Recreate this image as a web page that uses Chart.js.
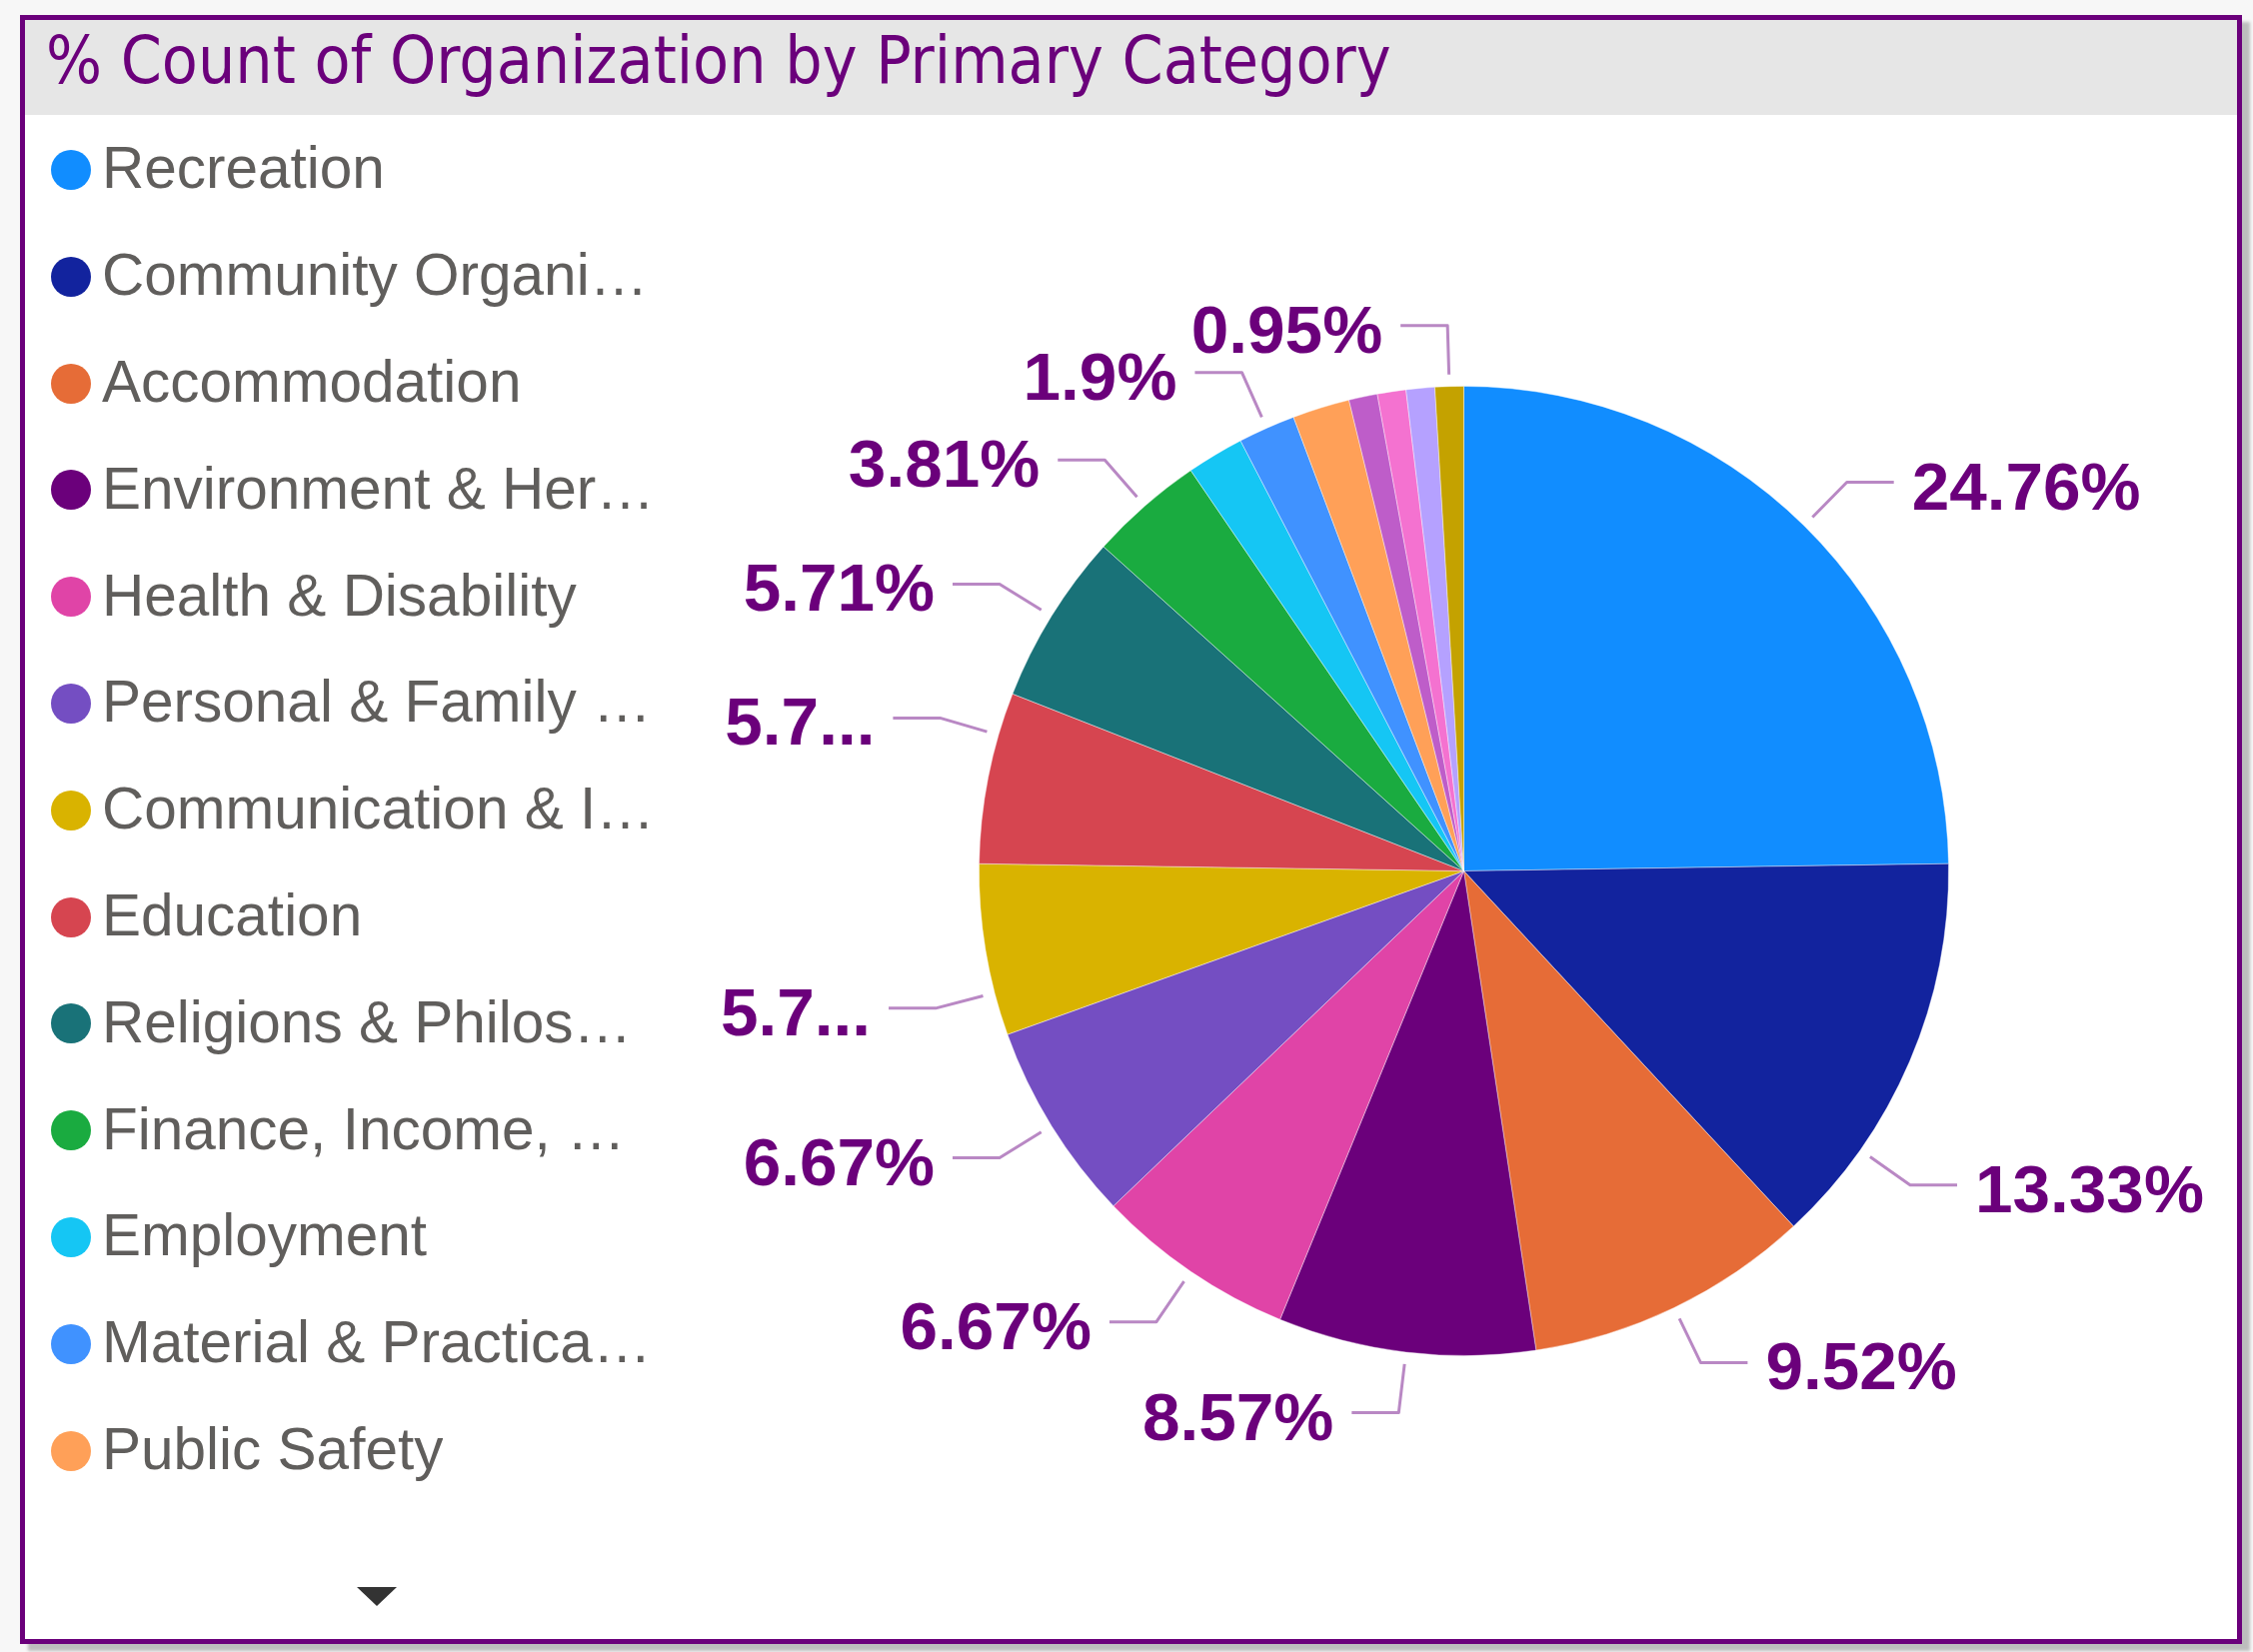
<!DOCTYPE html>
<html>
<head>
<meta charset="utf-8">
<title>% Count of Organization by Primary Category</title>
<script src="https://cdn.jsdelivr.net/npm/chart.js@4.4.1/dist/chart.umd.min.js"></script>
<style>
  html, body { margin: 0; padding: 0; }
  body {
    width: 2254px; height: 1653px; position: relative; overflow: hidden;
    background: #f7f7f7;
    font-family: "Liberation Sans", Arial, Helvetica, sans-serif;
  }
  .frame {
    position: absolute; left: 20px; top: 15px;
    width: 2213px; height: 1620px;
    border: 5px solid #6b007b; background: #fff;
    box-shadow: 8px 7px 3px #bdbdbd;
  }
  .title {
    position: absolute; left: 25px; top: 20px; width: 2213px; height: 95px;
    background: #e6e6e6; color: #6b007b;
    font-family: "DejaVu Sans Condensed", "DejaVu Sans", sans-serif; font-stretch: condensed;
    font-size: 65.5px; line-height: 81px; padding-left: 21px; box-sizing: border-box;
    white-space: nowrap;
  }
  #legend {
    position: absolute; left: 51px; top: 114.6px; width: 640px; height: 1388px;
    margin: 0; padding: 0; list-style: none; overflow: hidden;
  }
  #legend li {
    height: 106.8px; display: flex; align-items: center;
    font-size: 58.5px; color: #605e5c;
  }
  #legend .dot {
    flex: none; width: 40px; height: 40px; border-radius: 50%; margin-right: 11px;
    position: relative; top: 2px;
  }
  #legend .txt {
    max-width: 557px; white-space: nowrap; overflow: hidden; text-overflow: ellipsis;
  }
  .more {
    position: absolute; left: 357px; top: 1588px; width: 0; height: 0;
    border-left: 20px solid transparent; border-right: 20px solid transparent;
    border-top: 19px solid #333;
  }
  .plot { position: absolute; left: 0; top: 0; width: 2254px; height: 1653px; }
</style>
</head>
<body>
<div class="frame"></div>
<div class="title">% Count of Organization by Primary Category</div>
<ul id="legend"></ul>
<div class="more"></div>
<div class="plot"><canvas id="pie"></canvas></div>

<script>
// Organisations per primary category (105 in total), in slice order
var categories = [
  "Recreation",
  "Community Organisations",
  "Accommodation",
  "Environment & Heritage",
  "Health & Disability",
  "Personal & Family Support",
  "Communication & Information",
  "Education",
  "Religions & Philosophies",
  "Finance, Income, & Budgeting",
  "Employment",
  "Material & Practical Support",
  "Public Safety",
  "Legal & Justice",
  "Transport",
  "Arts & Culture",
  "Volunteering"
];
var counts = [26, 14, 10, 9, 7, 7, 6, 6, 6, 4, 2, 2, 2, 1, 1, 1, 1];
var sliceColors = [
  "#118DFF", "#12239E", "#E66C37", "#6B007B", "#E044A7", "#744EC2",
  "#D9B300", "#D64550", "#197278", "#1AAB40", "#15C6F4", "#4092FF",
  "#FFA058", "#BE5DC9", "#F472D0", "#B5A1FF", "#C4A200"
];
// data labels that survive the overlap check in the original
var labelShown = [true, true, true, true, true, true, true, true, true, true,
                  false, true, false, false, false, false, true];

function fmtPct(v) {
  return parseFloat(v.toFixed(2)) + "%";
}

// Power BI style outside labels: radial tick, elbow, horizontal arm, text.
var outsideLabels = {
  id: "outsideLabels",
  afterDatasetsDraw: function (chart, args, o) {
    var ctx = chart.ctx;
    var arcs = chart.getDatasetMeta(0).data;
    var total = counts.reduce(function (a, b) { return a + b; }, 0);
    ctx.save();
    ctx.font = "bold " + o.fontSize + "px 'Liberation Sans', Arial, sans-serif";
    ctx.lineWidth = o.lineWidth;
    ctx.strokeStyle = o.lineColor;
    ctx.fillStyle = o.color;
    ctx.textBaseline = "alphabetic";
    ctx.lineJoin = "round";

    arcs.forEach(function (arc, i) {
      if (!labelShown[i]) return;
      var p = arc.getProps(["x", "y", "startAngle", "endAngle", "outerRadius"], true);
      var text = fmtPct(counts[i] / total * 100);

      function place(a) {
        var c = Math.cos(a), s = Math.sin(a);
        var right = c >= 0;
        var ex = p.x + c * (p.outerRadius + o.elbow);
        var ey = p.y + s * (p.outerRadius + o.elbow);
        var tx = right ? ex + o.arm + o.gap : ex - o.arm - o.gap;
        return {
          c: c, s: s, right: right, ex: ex, ey: ey, tx: tx,
          room: right ? o.maxX - tx : tx - o.minX
        };
      }

      var w = ctx.measureText(text).width;
      var pos = place((p.startAngle + p.endAngle) / 2);
      if (w > pos.room) {
        // slide toward the slice edge that is farther from the horizontal
        var far = Math.abs(Math.sin(p.endAngle)) > Math.abs(Math.sin(p.startAngle)) ? p.endAngle : p.startAngle;
        var near = far === p.endAngle ? p.startAngle : p.endAngle;
        pos = place(near + (far - near) * 0.75);
      }
      if (w > pos.room) {
        var s = text;
        while (s.length > 1 && ctx.measureText(s + "...").width > pos.room) s = s.slice(0, -1);
        text = s + "...";
      }

      ctx.beginPath();
      ctx.moveTo(p.x + pos.c * (p.outerRadius + o.start), p.y + pos.s * (p.outerRadius + o.start));
      ctx.lineTo(pos.ex, pos.ey);
      ctx.lineTo(pos.right ? pos.ex + o.arm : pos.ex - o.arm, pos.ey);
      ctx.stroke();

      ctx.textAlign = pos.right ? "left" : "right";
      ctx.fillText(text, pos.tx, pos.ey + o.baseline);
    });
    ctx.restore();
  }
};

var chart = new Chart(document.getElementById("pie"), {
  type: "pie",
  data: {
    labels: categories,
    datasets: [{
      data: counts,
      backgroundColor: sliceColors,
      borderColor: "rgba(255,255,255,0.4)",
      borderWidth: 1
    }]
  },
  options: {
    responsive: true,
    maintainAspectRatio: false,
    animation: false,
    events: [],
    layout: { padding: { left: 979, right: 304, top: 386, bottom: 296 } },
    plugins: {
      legend: { display: false },
      tooltip: { enabled: false },
      outsideLabels: {
        fontSize: 67.5, color: "#6B007B",
        lineColor: "#B988C4", lineWidth: 3,
        start: 12, elbow: 61, arm: 47, gap: 18, baseline: 27,
        minX: 715, maxX: 2215
      }
    }
  },
  plugins: [outsideLabels]
});

// HTML legend (scrollable list in the original, first 13 rows visible)
var legendItems = chart.options.plugins.legend.labels.generateLabels(chart);
var ul = document.getElementById("legend");
legendItems.forEach(function (it) {
  var li = document.createElement("li");
  var dot = document.createElement("span");
  dot.className = "dot";
  dot.style.background = it.fillStyle;
  var txt = document.createElement("span");
  txt.className = "txt";
  txt.textContent = it.text;
  li.appendChild(dot);
  li.appendChild(txt);
  ul.appendChild(li);
});
</script>
</body>
</html>
